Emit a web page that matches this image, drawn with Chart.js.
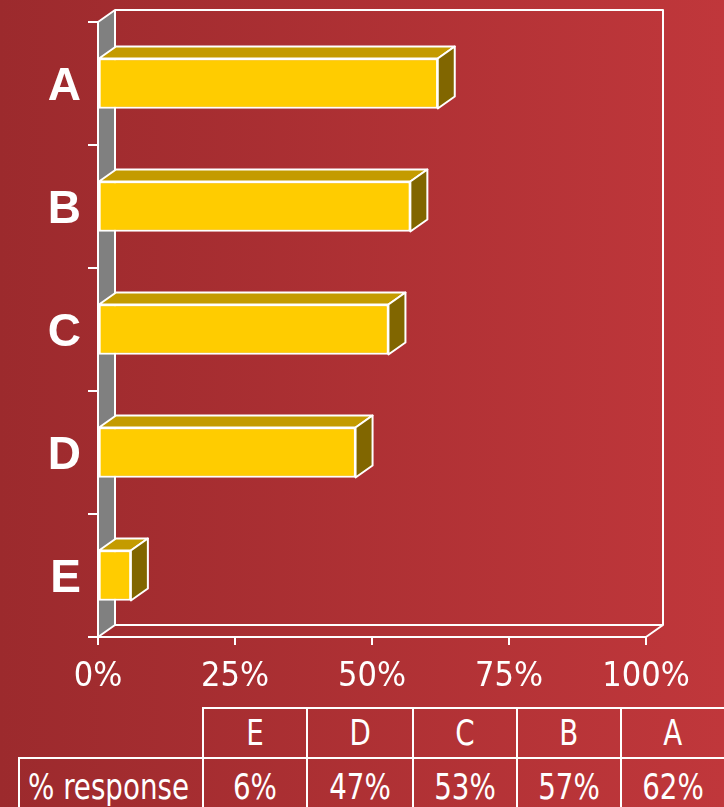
<!DOCTYPE html>
<html>
<head>
<meta charset="utf-8">
<script src="https://cdn.jsdelivr.net/npm/chart.js@4.4.1/dist/chart.umd.min.js"></script>
<style>
  html, body { margin: 0; padding: 0; }
  body {
    width: 724px; height: 807px; overflow: hidden; position: relative;
    background: linear-gradient(to right, #9c2a2d, #c0373b);
    font-family: "DejaVu Sans Condensed", sans-serif;
  }
  #wrap { position: absolute; left: 0; top: 0; width: 724px; height: 700px; }
  #tbl {
    position: absolute; left: 18px; top: 707px; width: 706px;
    border-collapse: collapse; table-layout: fixed;
    color: #fff; font-size: 35px; white-space: nowrap;
  }
  #tbl td { border: 2px solid #fff; text-align: center; padding: 0; overflow: visible; }
  #tbl td span { display: inline-block; transform: scaleX(0.88); }
  #tbl tr.head td { height: 48px; }
  #tbl tr.vals td { height: 56px; }
  #tbl td.blank { border-style: none; }
  #tbl td.name { text-align: left; }
  #tbl td.name span { transform-origin: left center; margin-left: 8px; }
</style>
</head>
<body>
<div id="wrap"><canvas id="myChart" width="724" height="700"></canvas></div>
<table id="tbl">
  <colgroup>
    <col style="width:184px"><col style="width:104px"><col style="width:106px">
    <col style="width:104px"><col style="width:104px"><col style="width:104px">
  </colgroup>
  <tr class="head"><td class="blank"></td></tr>
  <tr class="vals"><td class="name"><span>% response</span></td></tr>
</table>
<script>
const categories = ['A', 'B', 'C', 'D', 'E'];
const responses = [62, 57, 53, 47, 6];
const xTicks = [0, 25, 50, 75, 100];
const seriesName = '% response';

const DX = 17;
const DY = 12;

// table under the chart, columns go E..A
const headRow = document.querySelector('#tbl tr.head');
const valRow = document.querySelector('#tbl tr.vals');
for (let i = categories.length - 1; i >= 0; i--) {
    let h = document.createElement('td');
    h.innerHTML = '<span>' + categories[i] + '</span>';
    headRow.appendChild(h);
    let v = document.createElement('td');
    v.innerHTML = '<span>' + responses[i] + '%</span>';
    valRow.appendChild(v);
}

const box3d = {
    id: 'box3d',
    beforeDatasetsDraw: (chart) => {
        const ctx = chart.ctx;
        const a = chart.chartArea;
        ctx.save();
        ctx.lineWidth = 2;
        ctx.strokeStyle = '#fff';
        ctx.lineJoin = 'round';
        // side wall
        ctx.fillStyle = '#808080';
        ctx.beginPath();
        ctx.moveTo(a.left, a.top);
        ctx.lineTo(a.left + DX, a.top - DY);
        ctx.lineTo(a.left + DX, a.bottom - DY);
        ctx.lineTo(a.left, a.bottom);
        ctx.closePath();
        ctx.fill();
        ctx.stroke();
        // back wall + floor
        ctx.beginPath();
        ctx.moveTo(a.left + DX, a.top - DY);
        ctx.lineTo(a.right + DX, a.top - DY);
        ctx.lineTo(a.right + DX, a.bottom - DY);
        ctx.lineTo(a.left + DX, a.bottom - DY);
        ctx.moveTo(a.right + DX, a.bottom - DY);
        ctx.lineTo(a.right, a.bottom);
        ctx.lineTo(a.left, a.bottom);
        ctx.stroke();
        ctx.restore();
    },
    afterDatasetsDraw: (chart) => {
        const ctx = chart.ctx;
        const meta = chart.getDatasetMeta(0);
        ctx.save();
        ctx.lineWidth = 2;
        ctx.strokeStyle = '#fff';
        ctx.lineJoin = 'round';
        meta.data.forEach((bar) => {
            const p = bar.getProps(['x', 'y', 'base', 'height'], true);
            const top = p.y - p.height / 2;
            const bot = p.y + p.height / 2;
            // top face
            ctx.fillStyle = '#c49b00';
            ctx.beginPath();
            ctx.moveTo(p.base, top);
            ctx.lineTo(p.base + DX, top - DY);
            ctx.lineTo(p.x + DX, top - DY);
            ctx.lineTo(p.x, top);
            ctx.closePath();
            ctx.fill();
            ctx.stroke();
            // right face
            ctx.fillStyle = '#816600';
            ctx.beginPath();
            ctx.moveTo(p.x, top);
            ctx.lineTo(p.x + DX, top - DY);
            ctx.lineTo(p.x + DX, bot - DY);
            ctx.lineTo(p.x, bot);
            ctx.closePath();
            ctx.fill();
            ctx.stroke();
        });
        ctx.restore();
    }
};

const ctx = document.getElementById('myChart').getContext('2d');
const myChart = new Chart(ctx, {
    type: 'bar',
    plugins: [box3d],
    data: {
        labels: categories,
        datasets: [{
            label: seriesName,
            data: responses,
            backgroundColor: '#ffcc00',
            borderColor: '#fff',
            borderWidth: 2,
            borderSkipped: false,
            barThickness: 50
        }]
    },
    options: {
        indexAxis: 'y',
        responsive: false,
        animation: false,
        layout: { padding: { top: 22, right: 78, left: 0, bottom: 0 } },
        plugins: { legend: { display: false }, tooltip: { enabled: false } },
        scales: {
            x: {
                min: 0,
                max: 100,
                afterBuildTicks: (scale) => { scale.ticks = xTicks.map(v => ({ value: v })); },
                afterFit: (scale) => { scale.height = 63; },
                grid: { drawOnChartArea: false, color: '#fff', lineWidth: 2, tickLength: 8 },
                border: { display: false },
                ticks: {
                    color: '#fff',
                    padding: 12,
                    maxRotation: 0,
                    font: { family: '"DejaVu Sans Condensed", sans-serif', size: 34 },
                    callback: (v) => v + '%'
                }
            },
            y: {
                afterFit: (scale) => { scale.width = 98; },
                grid: { drawOnChartArea: false, color: '#fff', lineWidth: 2, tickLength: 10 },
                border: { display: false },
                ticks: {
                    color: '#fff',
                    padding: 7,
                    labelOffset: 4,
                    // small lineHeight so the label box does not push the plot down
                    font: { family: '"Liberation Sans", Arial, sans-serif', size: 46, weight: 'bold', lineHeight: 0.5 }
                }
            }
        }
    }
});
</script>
</body>
</html>
